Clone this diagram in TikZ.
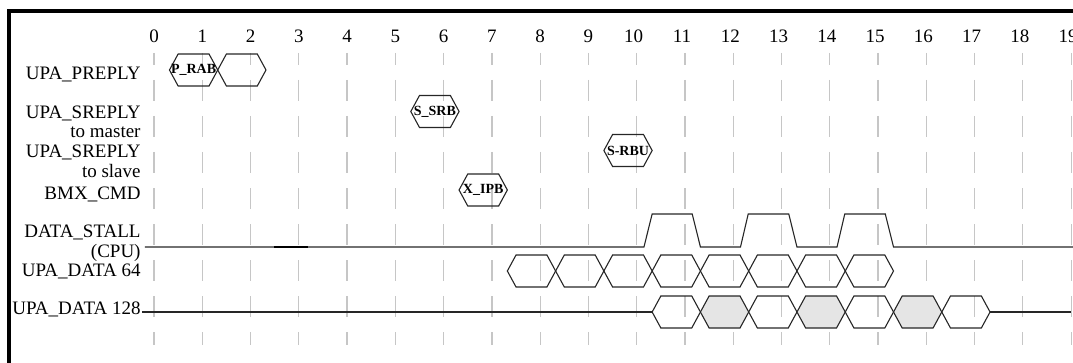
\documentclass[tikz,border=0pt]{standalone}
\usepackage{fontspec}
\setmainfont{Liberation Serif}
\begin{document}
\begin{tikzpicture}[
      x=24.135pt, y=-0.5pt,
      signame/.style={anchor=base east,
                      inner sep=0pt,
                      font=\fontsize{9.5}{10}\selectfont},
      cyclenum/.style={anchor=base,
                       inner sep=0pt,
                       font=\fontsize{9.5}{10}\selectfont},
      tag/.style={inner sep=0pt,
                  font=\fontsize{7}{8}\selectfont\bfseries},
      gridline/.style={gray!45,
                       line width=0.6pt,
                       dash pattern=on 10.5pt off 7.5pt,
                       dash phase=4.5pt},
      wave/.style={black!85,
                   line width=0.55pt},
      busfill/.style={wave,
                      fill=gray!20}
    ]
    \useasboundingbox (-3.1904,0) rectangle (19.0387,363);
    \draw [line width=2pt] (-2.9936,11) rectangle (25,500);

    % cycle numbers and grid
    \foreach \i in {0,...,19}
      \draw [gridline] (\i,53) -- (\i,345);
    \foreach \i in {0,...,9}
      \draw (\i,43) node[cyclenum] (c\i) {\i};
    \foreach \i in {10,...,19}
      \draw (\i,43) node[cyclenum, xshift=-1.5pt] (c\i) {\i};

    % signal names
    \draw (-0.27,79.5) node[signame] (preply) {UPA\_PREPLY};
    \draw (-0.27,119)  node[signame] (sreplym) {UPA\_SREPLY};
    \draw (-0.27,138)  node[signame] (tomaster) {to master};
    \draw (-0.27,158)  node[signame] (sreplys) {UPA\_SREPLY};
    \draw (-0.27,177)  node[signame] (toslave) {to slave};
    \draw (-0.27,199)  node[signame] (bmx) {BMX\_CMD};
    \draw (-0.27,237)  node[signame] (stall) {DATA\_STALL};
    \draw (-0.27,257)  node[signame] (cpu) {(CPU)};
    \draw (-0.27,276)  node[signame] (data64) {UPA\_DATA 64};
    \draw (-0.27,314)  node[signame] (data128) {UPA\_DATA 128};

    % single packets
    \foreach \t/\y in {0/70, 1/70, 5/111.5, 9/150.5, 6/190}
      \draw [wave] (\t+.32,\y) -- ++(.18,-16) -- ++(.64,0) -- ++(.18,16)
                   -- ++(-.18,16) -- ++(-.64,0) -- cycle;
    \draw (0.82,70)    node[tag] (prab) {P\_RAB};
    \draw (5.82,111.5) node[tag] (ssrb) {S\_SRB};
    \draw (9.82,150.5) node[tag] (srbu) {S-RBU};
    \draw (6.82,190)   node[tag] (xipb) {X\_IPB};

    % DATA_STALL
    \draw [wave] (-0.19,247) -- (10.15,247) -- (10.32,214) -- (11.15,214)
                 -- (11.32,247) -- (12.15,247) -- (12.31,214) -- (13.15,214)
                 -- (13.32,247) -- (14.15,247) -- (14.31,214) -- (15.15,214)
                 -- (15.32,247) -- (19.1,247);
    \draw [black, line width=1.1pt] (2.49,247) -- (3.19,247);

    % UPA_DATA 64
    \foreach \t in {7,...,14}
      \draw [wave] (\t+.32,271) -- ++(.18,-16) -- ++(.64,0) -- ++(.18,16)
                   -- ++(-.18,16) -- ++(-.64,0) -- cycle;

    % UPA_DATA 128
    \draw [wave] (-0.25,312) -- (10.32,312);
    \draw [wave] (17.32,312) -- (19.0,312);
    \foreach \t in {10,12,14,16}
      \draw [wave] (\t+.32,312) -- ++(.18,-16) -- ++(.64,0) -- ++(.18,16)
                   -- ++(-.18,16) -- ++(-.64,0) -- cycle;
    \foreach \t in {11,13,15}
      \draw [busfill] (\t+.32,312) -- ++(.18,-16) -- ++(.64,0) -- ++(.18,16)
                      -- ++(-.18,16) -- ++(-.64,0) -- cycle;

\end{tikzpicture}
\end{document}
